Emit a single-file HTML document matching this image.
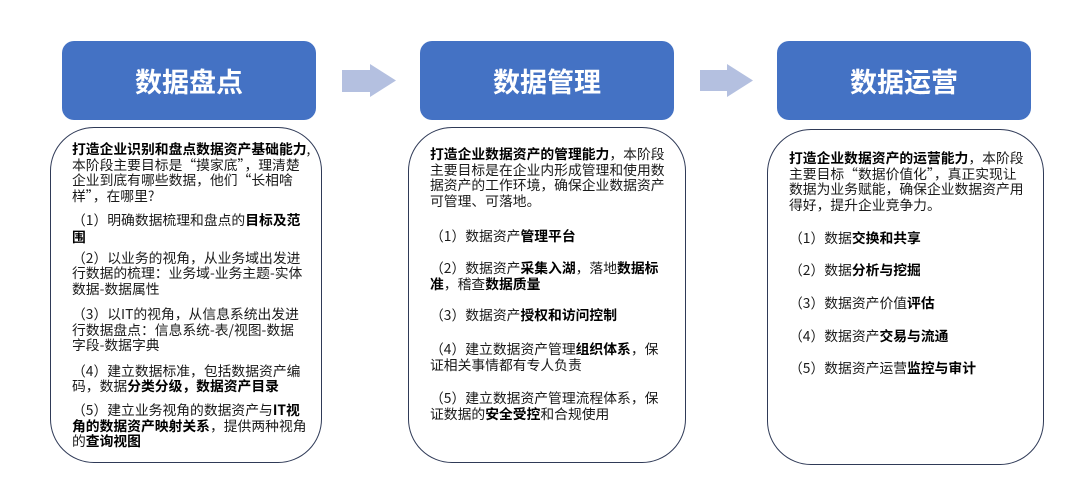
<!DOCTYPE html>
<html><head><meta charset="utf-8"><style>
*{margin:0;padding:0;box-sizing:border-box}
body{width:1080px;height:502px;background:#fff;position:relative;overflow:hidden;font-family:"Noto Sans CJK SC","Liberation Sans",sans-serif;color:#1a1a1a}
.h{position:absolute;top:41px;height:79px;background:#4472C4;border-radius:12px;color:#fff;font-weight:bold;font-size:27px;text-align:center;line-height:79px}
.b{position:absolute;border:1.5px solid #2f3a57;border-radius:44px;background:#fff}
.l{position:absolute;font-size:13.8px;line-height:16px;white-space:nowrap}
b{font-weight:bold;color:#000}
</style></head><body>
<div class="h" style="left:62px;width:254px">数据盘点</div>
<div class="h" style="left:420px;width:254px">数据管理</div>
<div class="h" style="left:777px;width:254px">数据运营</div>
<svg style="position:absolute;left:0;top:0" width="1080" height="130">
<polygon points="342,70 370,70 370,64 396,80.5 370,97 370,92 342,92" fill="#b4c0e0"/>
<polygon points="700,70 727,70 727,64 753,80.5 727,97 727,91 700,91" fill="#b4c0e0"/>
</svg>
<div class="b" style="left:50px;top:127px;width:272px;height:336px"></div>
<div class="b" style="left:408px;top:127px;width:278px;height:336px"></div>
<div class="b" style="left:767px;top:129px;width:277px;height:336px"></div>

<div class="l" style="left:72px;top:140px"><b>打造企业识别和盘点数据资产基础能力</b>,</div>
<div class="l" style="left:72px;top:156px">本阶段主要目标是“摸家底”，理清楚</div>
<div class="l" style="left:72px;top:171px">企业到底有哪些数据，他们“长相啥</div>
<div class="l" style="left:72px;top:187px">样”，在哪里?</div>
<div class="l" style="left:72px;top:211px">（1）明确数据梳理和盘点的<b>目标及范</b></div>
<div class="l" style="left:72px;top:228px"><b>围</b></div>
<div class="l" style="left:72px;top:249px">（2）以业务的视角，从业务域出发进</div>
<div class="l" style="left:72px;top:264px">行数据的梳理：业务域-业务主题-实体</div>
<div class="l" style="left:72px;top:280px">数据-数据属性</div>
<div class="l" style="left:72px;top:305px">（3）以IT的视角，从信息系统出发进</div>
<div class="l" style="left:72px;top:321px">行数据盘点：信息系统-表/视图-数据</div>
<div class="l" style="left:72px;top:336px">字段-数据字典</div>
<div class="l" style="left:72px;top:362px">（4）建立数据标准，包括数据资产编</div>
<div class="l" style="left:72px;top:377px">码，数据<b>分类分级，数据资产目录</b></div>
<div class="l" style="left:72px;top:401px">（5）建立业务视角的数据资产与<b>IT视</b></div>
<div class="l" style="left:72px;top:417px"><b>角的数据资产映射关系</b>，提供两种视角</div>
<div class="l" style="left:72px;top:432px">的<b>查询视图</b></div>

<div class="l" style="left:430px;top:145px"><b>打造企业数据资产的管理能力</b>，本阶段</div>
<div class="l" style="left:430px;top:160.5px">主要目标是在企业内形成管理和使用数</div>
<div class="l" style="left:430px;top:176px">据资产的工作环境，确保企业数据资产</div>
<div class="l" style="left:430px;top:191.5px">可管理、可落地。</div>
<div class="l" style="left:430px;top:227px">（1）数据资产<b>管理平台</b></div>
<div class="l" style="left:430px;top:259px">（2）数据资产<b>采集入湖</b>，落地<b>数据标</b></div>
<div class="l" style="left:430px;top:275px"><b>准</b>，稽查<b>数据质量</b></div>
<div class="l" style="left:430px;top:306px">（3）数据资产<b>授权和访问控制</b></div>
<div class="l" style="left:430px;top:340px">（4）建立数据资产管理<b>组织体系</b>，保</div>
<div class="l" style="left:430px;top:355.5px">证相关事情都有专人负责</div>
<div class="l" style="left:430px;top:389px">（5）建立数据资产管理流程体系，保</div>
<div class="l" style="left:430px;top:404.5px">证数据的<b>安全受控</b>和合规使用</div>

<div class="l" style="left:789px;top:149px"><b>打造企业数据资产的运营能力</b>，本阶段</div>
<div class="l" style="left:789px;top:164.5px">主要目标“数据价值化”，真正实现让</div>
<div class="l" style="left:789px;top:180px">数据为业务赋能，确保企业数据资产用</div>
<div class="l" style="left:789px;top:195.5px">得好，提升企业竞争力。</div>
<div class="l" style="left:789px;top:229px">（1）数据<b>交换和共享</b></div>
<div class="l" style="left:789px;top:261px">（2）数据<b>分析与挖掘</b></div>
<div class="l" style="left:789px;top:294px">（3）数据资产价值<b>评估</b></div>
<div class="l" style="left:789px;top:327px">（4）数据资产<b>交易与流通</b></div>
<div class="l" style="left:789px;top:359px">（5）数据资产运营<b>监控与审计</b></div>
</body></html>
